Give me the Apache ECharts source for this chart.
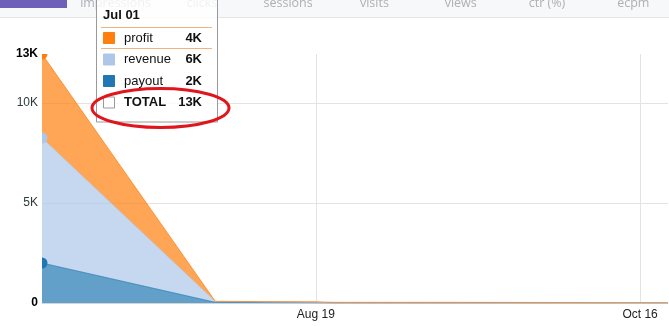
<!DOCTYPE html>
<html><head><meta charset="utf-8">
<script src="https://cdn.jsdelivr.net/npm/echarts@6/dist/echarts.min.js"></script>
<style>html,body{margin:0;padding:0;background:#fff}#c{width:669px;height:327px}</style>
</head><body><div id="c"></div>
<script>
// ---- data ----
const dates = ['2015-07-01','2015-08-01','2015-08-10','2015-08-19','2015-08-22','2015-09-10','2015-10-01','2015-10-21'];
const payout = [2000, 35, 20, 10, 0, 0, 0, 0];
const revenue = [6250, 45, 40, 30, 5, 0, 0, 0];
const profit = [4200, 5, 10, 20, 30, 35, 25, 15];
const seriesNames = ['payout', 'revenue', 'profit'];
const seriesColors = ['#1f77b4', '#aec7e8', '#ff7f0e'];
const xStart = '2015-07-01';
const xEnd = '2015-10-21';
const xTickDates = ['2015-08-19', '2015-10-16'];
const xTickLabels = ['Aug 19', 'Oct 16'];
const yTickValues = [0, 5000, 10000, 12450];
const yTickLabels = ['0', '5K', '10K', '13K'];
const tabLabels = ['impressions', 'clicks', 'sessions', 'visits', 'views', 'ctr (%)', 'ecpm'];
const tooltipTitle = 'Jul 01';
const tooltipNames = ['profit', 'revenue', 'payout', 'TOTAL'];
const tooltipValues = ['4K', '6K', '2K', '13K'];

// ---- build ----
const DAY = 86400000;
const dayOf = s => Math.round((new Date(s).getTime() - new Date(xStart).getTime()) / DAY);
const xTicks = xTickDates.map(dayOf);
const FONT = '"Liberation Sans", Arial, sans-serif';
const halfCircle = 'path://M0 0A1 1 0 0 1 0 2Z';
const quarterCircle = 'path://M0 0L1 0A1 1 0 0 1 0 1Z';

// data tuples are [value, day] so that the value dimension (first numeric) is the stacked one
const values = [payout, revenue, profit];
const series = seriesNames.map((name, si) => ({
  name, type: 'line', stack: 'all',
  encode: { x: 1, y: 0 },
  symbol: 'none', showSymbol: true,
  color: seriesColors[si],
  lineStyle: { width: 1, color: seriesColors[si], opacity: 0.7 },
  areaStyle: { color: seriesColors[si], opacity: 0.7 },
  emphasis: { disabled: true },
  data: dates.map((d, i) => {
    if (i === 0) {
      const top = si === 2;
      return {
        value: [values[si][i], dayOf(d)],
        symbol: top ? quarterCircle : halfCircle,
        symbolSize: top ? [5.5, 5.5] : [5.5, 11],
        symbolOffset: top ? [2.75, 2.75] : [2.75, 0],
        symbolKeepAspect: false,
        itemStyle: { color: seriesColors[si], opacity: 1 }
      };
    }
    return [values[si][i], dayOf(d)];
  })
}));

// graphics: tab bar, tooltip, annotation
const g = [];
g.push({ type: 'rect', shape: { x: 0, y: 0, width: 669, height: 17 }, style: { fill: '#f7f8f9' }, z: 50 });
g.push({ type: 'line', shape: { x1: 0, y1: 17.5, x2: 669, y2: 17.5 }, style: { stroke: '#e4e6e8', lineWidth: 1 }, z: 50 });
g.push({ type: 'rect', shape: { x: 0, y: 0, width: 67, height: 8 }, style: { fill: '#6e5fba' }, z: 51 });
tabLabels.forEach((t, i) => {
  g.push({ type: 'text', x: 115.5 + 86.3 * i, y: 3, z: 51,
    style: { text: t, fill: '#acb1b6', font: '12.5px "Open Sans", sans-serif', align: 'center', verticalAlign: 'middle' } });
});
// tooltip
g.push({ type: 'rect', shape: { x: 96.5, y: -5, width: 121, height: 127 },
  style: { fill: 'rgba(255,255,255,0.82)', stroke: '#9a9a9a', lineWidth: 1 }, z: 100 });
g.push({ type: 'text', x: 103, y: 15.5, z: 101,
  style: { text: tooltipTitle, fill: '#111', font: 'bold 13px ' + FONT, verticalAlign: 'middle' } });
[27.5, 48.5].forEach(y => g.push({ type: 'line', shape: { x1: 101, y1: y, x2: 212, y2: y },
  style: { stroke: '#f2b27c', lineWidth: 1 }, z: 101 }));
const markerColors = ['#ff7f0e', '#aec7e8', '#1f77b4', '#ffffff'];
const rowY = [38, 59.5, 81, 102.5];
tooltipNames.forEach((n, i) => {
  const total = i === 3;
  g.push({ type: 'rect', shape: { x: 103.5, y: rowY[i] - 5.5, width: 11, height: 11 },
    style: { fill: markerColors[i], stroke: total ? '#999' : markerColors[i], lineWidth: 1 }, z: 101 });
  g.push({ type: 'text', x: 124, y: rowY[i], z: 101,
    style: { text: n, fill: '#111', font: (total ? 'bold ' : '') + '13px ' + FONT, verticalAlign: 'middle' } });
  g.push({ type: 'text', x: 202, y: rowY[i], z: 101,
    style: { text: tooltipValues[i], fill: '#111', font: 'bold 13px ' + FONT, align: 'right', verticalAlign: 'middle' } });
});
// red hand-drawn circle
g.push({ type: 'ellipse', shape: { cx: 160.5, cy: 108, rx: 68.5, ry: 19.5 },
  style: { fill: 'none', stroke: '#e1161d', lineWidth: 3 }, z: 110 });

const chart = echarts.init(document.getElementById('c'), null, { renderer: 'canvas' });
chart.setOption({
  animation: false,
  backgroundColor: '#fff',
  grid: { left: 42, right: 1, top: 54, bottom: 24, containLabel: false },
  xAxis: {
    type: 'value', min: 0, max: dayOf(xEnd),
    axisLine: { show: true, lineStyle: { color: '#d5d5d5' } },
    axisTick: { show: false, customValues: xTicks },
    axisLabel: { customValues: xTicks, margin: 6, color: '#222', fontSize: 12, fontFamily: FONT,
      formatter: v => { const k = xTicks.indexOf(v); return k >= 0 ? xTickLabels[k] : ''; } },
    splitLine: { show: true, lineStyle: { color: '#e3e3e3', width: 1 } }
  },
  yAxis: {
    type: 'value', min: 0, max: yTickValues[yTickValues.length - 1],
    axisLine: { show: false },
    axisTick: { show: false, customValues: yTickValues.slice(1, -1) },
    axisLabel: { customValues: yTickValues, margin: 4, fontSize: 12, fontFamily: FONT,
      formatter: v => {
        const k = yTickValues.indexOf(v);
        if (k < 0) return '';
        return (k === 0 || k === yTickValues.length - 1) ? '{b|' + yTickLabels[k] + '}' : '{n|' + yTickLabels[k] + '}';
      },
      rich: { b: { fontWeight: 'bold', color: '#000', fontSize: 12, fontFamily: FONT },
              n: { color: '#2d3a3a', fontSize: 12, fontFamily: FONT } } },
    splitLine: { show: true, lineStyle: { color: '#e3e3e3', width: 1 } }
  },
  series,
  graphic: g
});
</script></body></html>
